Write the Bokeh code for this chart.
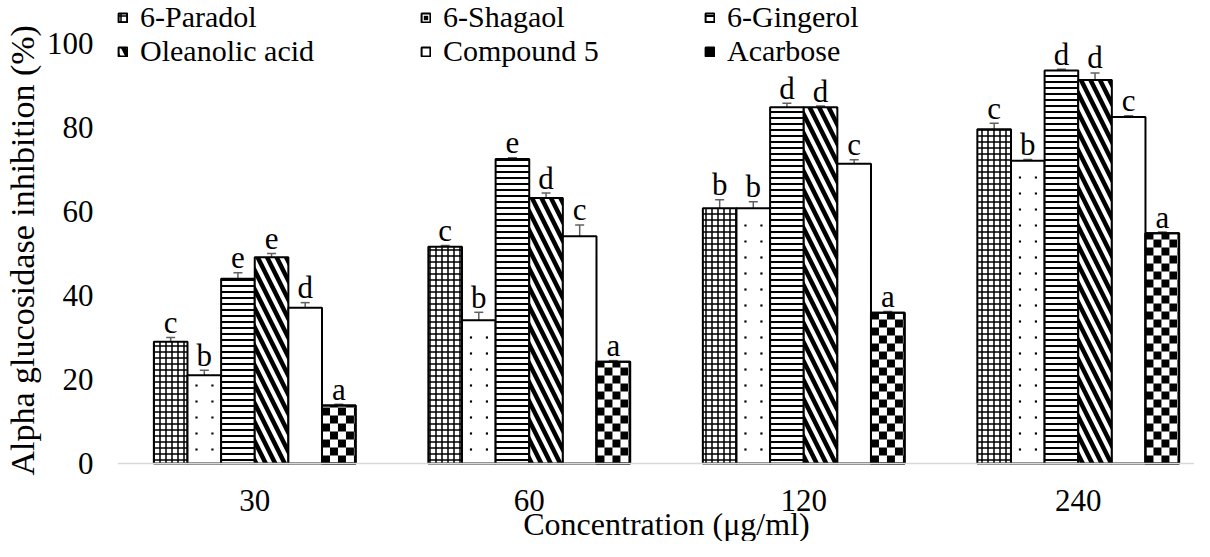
from bokeh.plotting import figure
from bokeh.models import (Range1d, FixedTicker, ColumnDataSource, Whisker, TeeHead,
                          Legend, LegendItem, Label, Title)
from bokeh.core.properties import value
from bokeh.embed import file_html
from bokeh.resources import INLINE

# ---------------- data ----------------
concentrations = ["30", "60", "120", "240"]
compounds = ["6-Paradol", "6-Shagaol", "6-Gingerol", "Oleanolic acid", "Compound 5", "Acarbose"]

paradol = [29.0, 51.6, 60.8, 79.6]
paradol_err = [1.0, 0.3, 2.0, 1.4]
paradol_sig = ["c", "c", "b", "c"]

shagaol = [21.0, 34.1, 60.8, 72.1]
shagaol_err = [1.2, 1.9, 1.5, 0.3]
shagaol_sig = ["b", "b", "b", "b"]

gingerol = [44.0, 72.5, 84.8, 93.6]
gingerol_err = [1.4, 0.3, 1.0, 0.3]
gingerol_sig = ["e", "e", "d", "d"]

oleanolic = [49.1, 63.2, 84.8, 91.3]
oleanolic_err = [0.9, 1.2, 0.3, 1.7]
oleanolic_sig = ["e", "d", "d", "d"]

compound5 = [37.1, 54.1, 71.4, 82.5]
compound5_err = [1.2, 2.7, 0.9, 0.3]
compound5_sig = ["d", "c", "c", "c"]

acarbose = [13.8, 24.2, 35.9, 54.8]
acarbose_err = [0.3, 0.3, 0.3, 0.3]
acarbose_sig = ["a", "a", "a", "a"]

y_ticks = [0, 20, 40, 60, 80, 100]
x_title = "Concentration (μg/ml)"
y_title = "Alpha glucosidase inhibition (%)"

series_values = [paradol, shagaol, gingerol, oleanolic, compound5, acarbose]
series_errors = [paradol_err, shagaol_err, gingerol_err, oleanolic_err, compound5_err, acarbose_err]
series_sig = [paradol_sig, shagaol_sig, gingerol_sig, oleanolic_sig, compound5_sig, acarbose_sig]

# ---------------- layout / styles ----------------
FONT = "Liberation Serif"
W, H = 1194, 541
BORDER_L = 115
X0, X1 = -0.5, 3.4236
Y0, Y1 = -18.571, 110.24
xu = (X1 - X0) / (W - BORDER_L)   # data units per pixel (x)
yu = (Y1 - Y0) / H                # data units per pixel (y)

styles = [
    dict(hatch_pattern="+", hatch_scale=6, hatch_weight=1.5),
    dict(),
    dict(hatch_pattern="-", hatch_scale=6, hatch_weight=2),
    dict(hatch_pattern="\\", hatch_scale=19, hatch_weight=4.5),
    dict(),
    dict(),
]
bar_width = 0.1225

p = figure(width=W, height=H, output_backend="svg", toolbar_location=None,
           x_range=Range1d(X0, X1), y_range=Range1d(Y0, Y1),
           min_border_left=BORDER_L, min_border_right=0, min_border_top=0, min_border_bottom=0)
p.outline_line_color = None
p.xgrid.visible = False
p.ygrid.visible = False

renderers = []
extra = {}
n = len(compounds)
for si, (vals, errs, sig, st) in enumerate(zip(series_values, series_errors, series_sig, styles)):
    xs = [gi + (si - (n - 1) / 2) * bar_width for gi in range(len(concentrations))]
    src = ColumnDataSource(dict(
        x=xs, top=vals,
        upper=[v + e for v, e in zip(vals, errs)],
        lower=[v - e for v, e in zip(vals, errs)],
        sig=sig,
    ))
    r = p.vbar(x="x", top="top", width=bar_width, bottom=0, source=src,
               fill_color="white", line_color="black", line_width=2,
               hatch_color="black", **st)
    renderers.append(r)

    if compounds[si] == "6-Shagaol":
        # sparse dot fill, derived from each bar's extent
        dx, dy = [], []
        for xc, top in zip(xs, vals):
            left = xc - bar_width / 2
            k = 0
            while (9 + 16 * k) * xu < bar_width:
                j = 0
                while (14 + 16 * j) * yu < top - 3 * yu:
                    dx.append(left + (9 + 16 * k) * xu)
                    dy.append((14 + 16 * j) * yu)
                    j += 1
                k += 1
        extra[si] = p.scatter(dx, dy, marker="square", size=2.2, fill_color="black",
                              line_color=None)
    if compounds[si] == "Acarbose":
        # checkerboard fill, derived from each bar's extent
        ql, qr, qb, qt = [], [], [], []
        sx, sy = 8 * xu, 8 * yu
        for xc, top in zip(xs, vals):
            bl, br = xc - bar_width / 2, xc + bar_width / 2
            j = 0
            while j * sy < top:
                i = 0
                while bl + i * sx < br - 1e-9:
                    if (i + j) % 2 == 0:
                        ql.append(bl + i * sx)
                        qr.append(min(bl + (i + 1) * sx, br))
                        qb.append(j * sy)
                        qt.append(min((j + 1) * sy, top))
                    i += 1
                j += 1
        extra[si] = p.quad(left=ql, right=qr, bottom=qb, top=qt, fill_color="black",
                           line_color=None)
        p.vbar(x="x", top="top", width=bar_width, bottom=0, source=src,
               fill_alpha=0, line_color="black", line_width=2)

    w = Whisker(source=src, base="x", upper="upper", lower="lower",
                line_color="#606060", line_width=1.5,
                upper_head=TeeHead(size=9, line_color="#606060", line_width=1.5),
                lower_head=TeeHead(size=9, line_color="#606060", line_width=1.5))
    p.add_layout(w)
    p.text(x="x", y="upper", text="sig", source=src, text_font=value(FONT),
           text_font_size="31px", text_color="black", text_align="center",
           text_baseline="alphabetic", y_offset=-15)

# legend: two rows of three entries, one legend box per entry
col_x = [0, 303, 587]
row_y = [507, 473]
for k in range(n):
    rs = [renderers[k]] + ([extra[k]] if k in extra else [])
    lg = Legend(items=[LegendItem(label=compounds[k], renderers=rs)],
                location=(col_x[k % 3], row_y[k // 3]),
                glyph_width=11, glyph_height=11, label_standoff=12,
                padding=0, margin=0, border_line_color=None, background_fill_alpha=0,
                label_text_font=FONT, label_text_font_size="30px", label_text_color="black")
    p.add_layout(lg)

# x axis sits at y = 0 inside the frame
xa = p.xaxis[0]
xa.fixed_location = 0
xa.ticker = FixedTicker(ticks=list(range(len(concentrations))))
xa.major_label_overrides = {i: c for i, c in enumerate(concentrations)}
xa.axis_line_color = "#d9d9d9"
xa.axis_line_width = 1.5
xa.major_tick_line_color = None
xa.minor_tick_line_color = None
xa.major_tick_out = 0
xa.major_tick_in = 0
xa.major_label_standoff = 26

# x-axis title, centred under the category groups
p.add_layout(Label(x=(len(concentrations) - 1) / 2, x_units="data", y=18, y_units="screen",
                   text=x_title, text_font=FONT, text_font_size="32px",
                   text_color="black", text_align="center", text_baseline="middle"))

ya = p.yaxis[0]
ya.ticker = FixedTicker(ticks=y_ticks)
ya.axis_line_color = None
ya.major_tick_line_color = None
ya.minor_tick_line_color = None
ya.major_tick_out = 0
ya.major_tick_in = 0
ya.major_label_standoff = 24

for ax in (xa, ya):
    ax.major_label_text_font = FONT
    ax.major_label_text_font_size = "31px"
    ax.major_label_text_color = "black"

p.add_layout(Title(text=y_title, align="left", offset=66, vertical_align="middle", standoff=4,
                   text_font=FONT, text_font_size="34px", text_font_style="normal",
                   text_color="black"), "left")

open("out.html", "w").write(file_html(p, INLINE))
